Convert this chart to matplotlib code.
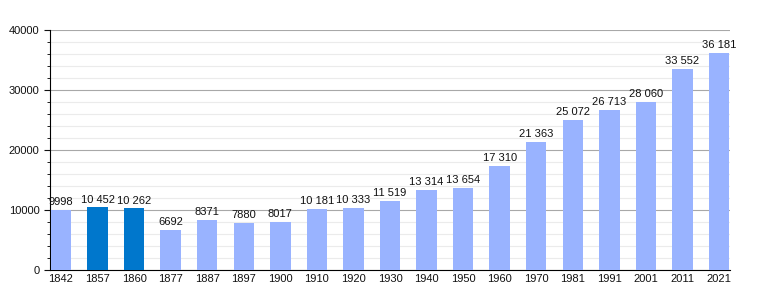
import matplotlib
matplotlib.use("Agg")
import matplotlib.pyplot as plt
import matplotlib.ticker as mticker

# DATOS
annees = ["1842", "1857", "1860", "1877", "1887", "1897", "1900", "1910", "1920", "1930",
          "1940", "1950", "1960", "1970", "1981", "1991", "2001", "2011", "2021"]
population = [9998, 10452, 10262, 6692, 8371, 7880, 8017, 10181, 10333, 11519,
              13314, 13654, 17310, 21363, 25072, 26713, 28060, 33552, 36181]
annees_foncees = ["1857", "1860"]

plt.rcParams["font.family"] = ["Liberation Sans", "DejaVu Sans"]

clair = "#99b3ff"
fonce = "#0077cc"
couleurs = [fonce if a in annees_foncees else clair for a in annees]

fig = plt.figure(figsize=(7.6, 3.0), dpi=100)
ax = fig.add_axes([50 / 760, 30 / 300, 680 / 760, 240 / 300])

x = list(range(len(annees)))
ax.bar(x, population, width=0.56, color=couleurs, zorder=3)

# ETIQUETAS DE VALOR
for xi, v in zip(x, population):
    texte = f"{v:,}".replace(",", " ") if v >= 10000 else str(v)
    ax.text(xi, v + 450, texte, ha="center", va="bottom", fontsize=8, color="#111111", zorder=4)

ax.set_xlim(-0.3, len(annees) - 0.7)
ax.set_ylim(0, 40000)
ax.set_xticks(x)
ax.set_xticklabels(annees)
ax.yaxis.set_major_locator(mticker.MultipleLocator(10000))
ax.yaxis.set_minor_locator(mticker.MultipleLocator(2000))
ax.yaxis.set_major_formatter(mticker.FuncFormatter(lambda v, pos: f"{v:.0f}"))

ax.grid(axis="y", which="major", color="#a8a8a8", linewidth=0.8, zorder=0)
ax.grid(axis="y", which="minor", color="#ebebeb", linewidth=0.8, zorder=0)

for lado in ["top", "right"]:
    ax.spines[lado].set_visible(False)
ax.spines["left"].set_color("black")
ax.spines["bottom"].set_color("black")
ax.tick_params(axis="x", length=0, labelsize=8, pad=3, colors="#111111")
ax.tick_params(axis="y", which="major", length=4, labelsize=8, colors="#111111")
ax.tick_params(axis="y", which="minor", length=2)
ax.set_axisbelow(True)

fig.savefig("out.png", dpi=100)
